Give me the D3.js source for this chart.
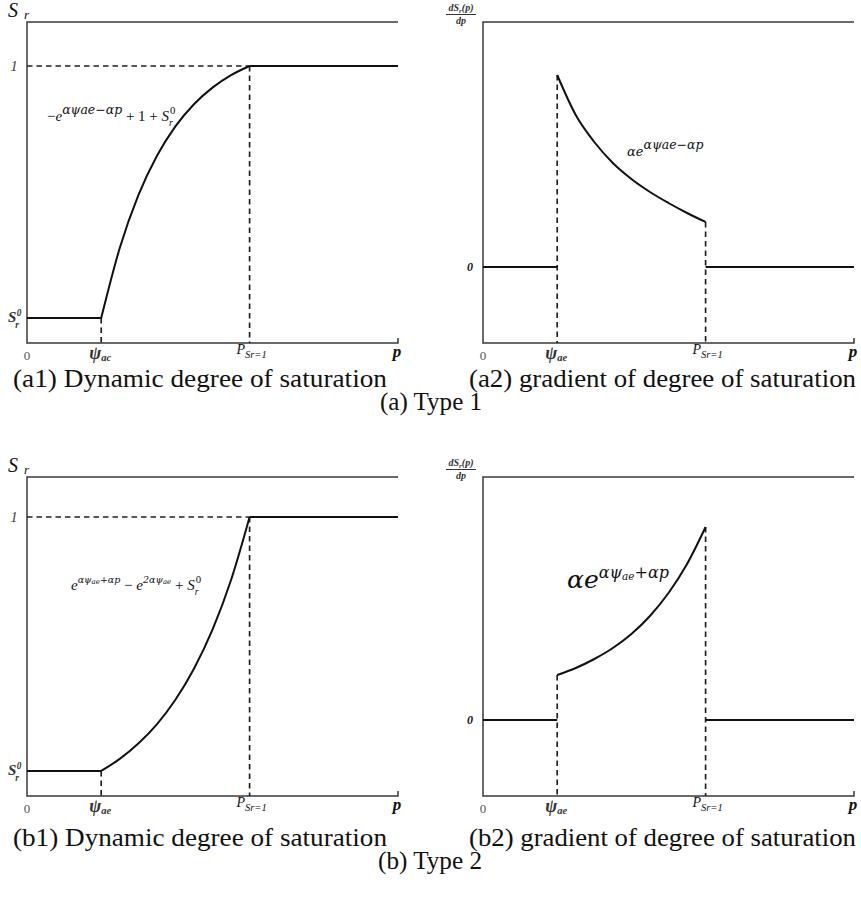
<!DOCTYPE html>
<html lang="en">
<head>
<meta charset="UTF-8">
<title>Degree of saturation</title>
<script src="https://d3js.org/d3.v7.min.js"></script>
<style>
    body { margin: 0; background: #fff; }
    svg { display: block; }
    text { font-family: "Liberation Serif", "Times New Roman", Times, serif; fill: #111; white-space: pre; }
</style>
</head>
<body>
<svg id="chart" width="861" height="899" font-family="Liberation Serif, serif"></svg>
<script>
// values (p in arbitrary units 0..10)
const pMax = 10;
const psiAe = 2;
const pSr1 = 6;
const sr0 = 0.09;
const pGrid = [2, 2.5, 3, 3.5, 4, 4.5, 5, 5.5, 6];
const srType1 = [0.09, 0.343, 0.533, 0.675, 0.782, 0.862, 0.922, 0.967, 1.0];
const gradType1 = [1.92, 1.52, 1.25, 1.04, 0.88, 0.75, 0.64, 0.54, 0.45];
const srType2 = [0.09, 0.133, 0.188, 0.257, 0.345, 0.456, 0.596, 0.774, 1.0];
const gradType2 = [0.45, 0.52, 0.61, 0.72, 0.86, 1.04, 1.27, 1.56, 1.93];
const captions = ["(a1) Dynamic degree of saturation", "(a2) gradient of degree of saturation",
                  "(b1) Dynamic degree of saturation", "(b2) gradient of degree of saturation"];
const typeTitles = ["(a) Type 1", "(b) Type 2"];

const svg = d3.select("#chart");

const panels = [
    { kind: "sr",   left: 27,  right: 398, top: 22,  bottom: 343, base: 343, unit: 277, values: srType1,   psiSub: "ac" },
    { kind: "grad", left: 483, right: 854, top: 22,  bottom: 343, base: 267, unit: 100, values: gradType1, psiSub: "ae" },
    { kind: "sr",   left: 27,  right: 398, top: 477, bottom: 796, base: 796, unit: 279, values: srType2,   psiSub: "ae" },
    { kind: "grad", left: 483, right: 854, top: 477, bottom: 796, base: 720, unit: 100, values: gradType2, psiSub: "ae" }
];

function drawPanel(pn) {
    const g = svg.append("g");
    const x = d3.scaleLinear().domain([0, pMax]).range([pn.left, pn.right]);
    const y = d3.scaleLinear().domain([0, 1]).range([pn.base, pn.base - pn.unit]);
    const lin = d3.line().x(d => x(d[0])).y(d => y(d[1]));
    const smooth = d3.line().x(d => x(d[0])).y(d => y(d[1])).curve(d3.curveMonotoneX);

    // frame: left, top, bottom + tick at right end
    g.append("path")
        .attr("d", `M${pn.right},${pn.top}H${pn.left}V${pn.bottom}H${pn.right}v-5`)
        .attr("fill", "none").attr("stroke", "#3a3a3a").attr("stroke-width", 1.5);

    const dash = (pts) => g.append("path").attr("d", lin(pts))
        .attr("fill", "none").attr("stroke", "#222").attr("stroke-width", 1.7)
        .attr("stroke-dasharray", "5.5,4");
    const solid = (pts, fn) => g.append("path").attr("d", (fn || lin)(pts))
        .attr("fill", "none").attr("stroke", "#111").attr("stroke-width", 2);

    const yBottom = y.invert(pn.bottom);
    const curve = pGrid.map((p, i) => [p, pn.values[i]]);
    const first = pn.values[0], last = pn.values[pn.values.length - 1];

    if (pn.kind === "sr") {
        dash([[0, 1], [pSr1, 1]]);
        dash([[pSr1, 1], [pSr1, yBottom]]);
        dash([[psiAe, sr0], [psiAe, yBottom]]);
        solid([[0, sr0], [psiAe, sr0]]);
        solid(curve, smooth);
        solid([[pSr1, 1], [pMax, 1]]);
    } else {
        dash([[psiAe, first], [psiAe, yBottom]]);
        dash([[pSr1, last], [pSr1, yBottom]]);
        solid([[0, 0], [psiAe, 0]]);
        solid(curve, smooth);
        solid([[pSr1, 0], [pMax, 0]]);
    }

    // x tick labels
    const lb = pn.bottom;
    g.append("text").attr("x", x(0)).attr("y", lb + 17).attr("text-anchor", "middle")
        .attr("font-size", 13).style("fill", "#555").text("0");
    const psi = g.append("text").attr("x", x(psiAe) - 1).attr("y", lb + 16).attr("text-anchor", "middle")
        .attr("font-style", "italic").attr("font-weight", "bold").attr("font-size", 18).style("fill", "#333");
    psi.append("tspan").text("ψ");
    psi.append("tspan").attr("font-size", 10.5).attr("dy", 2).text(pn.psiSub);
    const pl = g.append("text").attr("x", x(pSr1) + 2).attr("y", lb + 11).attr("text-anchor", "middle")
        .attr("font-style", "italic").attr("font-size", 14);
    pl.append("tspan").text("P");
    pl.append("tspan").attr("font-size", 10.5).attr("dy", 4).text("Sr=1");
    g.append("text").attr("x", x(pMax) - 1).attr("y", lb + 14).attr("text-anchor", "middle")
        .attr("font-style", "italic").attr("font-weight", "bold").attr("font-size", 17).text("p");

    if (pn.kind === "sr") {
        const sl = g.append("text").attr("x", 8).attr("y", pn.top - 5)
            .attr("font-style", "italic").attr("font-size", 20);
        sl.append("tspan").text("S");
        sl.append("tspan").attr("font-size", 13).attr("dy", 2).attr("dx", 6).text("r");
        g.append("text").attr("x", pn.left - 13).attr("y", y(1) + 5).attr("text-anchor", "middle")
            .attr("font-style", "italic").attr("font-size", 15).style("fill", "#444").text("1");
        stacked(g, 8, y(sr0) + 4, 15);
    } else {
        const cx = pn.left - 22;
        const num = g.append("text").attr("x", cx).attr("y", pn.top - 11).attr("text-anchor", "middle")
            .attr("font-style", "italic").attr("font-weight", "bold").attr("font-size", 10).style("fill", "#333");
        num.append("tspan").text("dS");
        num.append("tspan").attr("font-size", 7).attr("dy", 2).text("r");
        num.append("tspan").attr("dy", -2).text("(p)");
        g.append("line").attr("x1", cx - 15).attr("x2", cx + 15)
            .attr("y1", pn.top - 7.5).attr("y2", pn.top - 7.5).attr("stroke", "#333").attr("stroke-width", 1);
        g.append("text").attr("x", cx).attr("y", pn.top + 2).attr("text-anchor", "middle")
            .attr("font-style", "italic").attr("font-weight", "bold").attr("font-size", 10).style("fill", "#333").text("dp");
        g.append("text").attr("x", pn.left - 13).attr("y", y(0) + 4).attr("text-anchor", "middle")
            .attr("font-style", "italic").attr("font-weight", "bold").attr("font-size", 12).text("0");
    }
}

// S with stacked 0 / r, as left tick label
function stacked(g, x0, yb, size) {
    const t = g.append("text").attr("x", x0).attr("y", yb).attr("font-style", "italic")
        .attr("font-size", size).attr("font-weight", "bold").style("fill", "#333").text("S");
    const w = t.node().getComputedTextLength();
    g.append("text").attr("x", x0 + w + 0.5).attr("y", yb - 6).attr("font-style", "italic")
        .attr("font-weight", "bold").attr("font-size", size * 0.62).style("fill", "#333").text("0");
    g.append("text").attr("x", x0 + w - 1).attr("y", yb + 6).attr("font-style", "italic")
        .attr("font-weight", "bold").attr("font-size", size * 0.62).style("fill", "#333").text("r");
}

panels.forEach(drawPanel);

// formulas, laid out piece by piece
function formula(x0, yb, parts) {
    let cx = x0;
    parts.forEach(p => {
        if (p.stack) {
            const t = svg.append("text").attr("x", cx).attr("y", yb).attr("font-style", "italic")
                .attr("font-size", p.size).text("S");
            const w = t.node().getComputedTextLength();
            svg.append("text").attr("x", cx + w + 1).attr("y", yb - 7).attr("font-size", p.size * 0.72).text("0");
            svg.append("text").attr("x", cx + w).attr("y", yb + 5).attr("font-style", "italic")
                .attr("font-size", p.size * 0.66).text("r");
            cx += w + 9;
            return;
        }
        const t = svg.append("text").attr("x", cx).attr("y", yb + (p.dy || 0))
            .attr("font-size", p.size).attr("font-style", p.italic ? "italic" : null)
            .style("font-family", p.family || null).text(p.text);
        cx += t.node().getComputedTextLength();
    });
}

formula(47, 121, [
    { text: "−", size: 15 }, { text: "e", size: 15, italic: true },
    { text: "αψae−αp", size: 12.5, italic: true, dy: -7, family: "DejaVu Serif" },
    { text: " + 1 + ", size: 15 },
    { stack: true, size: 15 }
]);
formula(627, 156, [
    { text: "αe", size: 13, italic: true, family: "DejaVu Serif" },
    { text: "αψae−αp", size: 12.5, italic: true, dy: -7, family: "DejaVu Serif" }
]);
formula(71, 590, [
    { text: "e", size: 15, italic: true },
    { text: "αψ", size: 9.5, italic: true, dy: -7, family: "DejaVu Serif" },
    { text: "ae", size: 7, italic: true, dy: -6, family: "DejaVu Serif" },
    { text: "+αp", size: 9.5, italic: true, dy: -7, family: "DejaVu Serif" },
    { text: " − ", size: 15 },
    { text: "e", size: 15, italic: true },
    { text: "2αψ", size: 9.5, italic: true, dy: -7, family: "DejaVu Serif" },
    { text: "ae", size: 7, italic: true, dy: -6, family: "DejaVu Serif" },
    { text: " + ", size: 15 },
    { stack: true, size: 15 }
]);
formula(567, 588, [
    { text: "αe", size: 25, italic: true, family: "DejaVu Serif" },
    { text: "αψ", size: 16, italic: true, dy: -10, family: "DejaVu Serif" },
    { text: "ae", size: 10.5, italic: true, dy: -8, family: "DejaVu Serif" },
    { text: "+αp", size: 16, italic: true, dy: -10, family: "DejaVu Serif" }
]);

// captions
const capPos = [[13, 387, 387], [469, 856, 387], [13, 387, 846], [469, 856, 846]];
captions.forEach((c, i) => {
    const [a, b, yb] = capPos[i];
    svg.append("text").attr("x", a).attr("y", yb).attr("font-size", 25)
        .attr("textLength", b - a).attr("lengthAdjust", "spacingAndGlyphs").text(c);
});
const titlePos = [[380, 482, 410], [378, 482, 869]];
typeTitles.forEach((c, i) => {
    const [a, b, yb] = titlePos[i];
    svg.append("text").attr("x", a).attr("y", yb).attr("font-size", 25)
        .attr("textLength", b - a).attr("lengthAdjust", "spacingAndGlyphs").text(c);
});
</script>
</body>
</html>
